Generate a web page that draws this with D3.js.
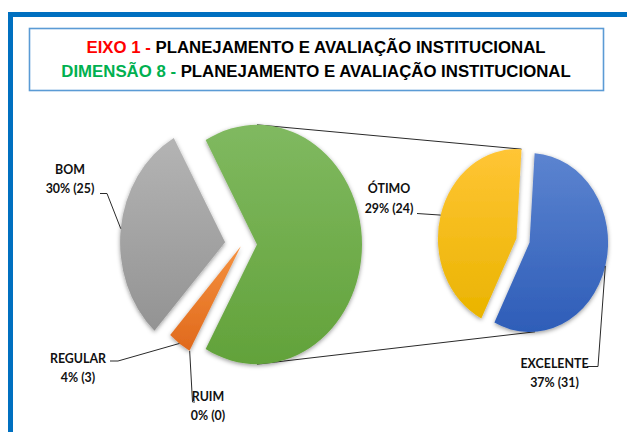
<!DOCTYPE html>
<html><head><meta charset="utf-8">
<script src="https://cdn.jsdelivr.net/npm/d3@7"></script>
<style>body{margin:0;background:#fff;}svg{display:block}</style>
</head><body><svg id="c" width="627" height="432"></svg>
<script>
// ---------- data ----------
const categories = ["RUIM", "REGULAR", "BOM", "ÓTIMO", "EXCELENTE"];
const counts = [0, 3, 25, 24, 31];
const percentLabels = ["0%", "4%", "30%", "29%", "37%"];
const mainCategories = ["RUIM", "REGULAR", "BOM"];          // shown in the main pie
const secondaryCategories = ["EXCELENTE", "ÓTIMO"];         // split out in the secondary pie
const otherName = "OUTROS";
const titleLine1 = ["EIXO 1 - ", "PLANEJAMENTO E AVALIAÇÃO INSTITUCIONAL"];
const titleLine2 = ["DIMENSÃO 8 - ", "PLANEJAMENTO E AVALIAÇÃO INSTITUCIONAL"];

// ---------- style / layout ----------
const colors = {
  RUIM: ["#f5913f", "#e0691c"], REGULAR: ["#f5913f", "#e0691c"],
  BOM: ["#b4b4b4", "#939393"], OUTROS: ["#80b960", "#62a23a"],
  "ÓTIMO": ["#ffc535", "#eab400"], EXCELENTE: ["#5c84d0", "#2e5db8"]
};
const SY = 1.14; // vertical stretch of the picture
const mainPie = {cx: 242, cy: 244.5, r: 105};
const secPie = {cx: 523, cy: 240.5, r: 78.5};
const explode = {OUTROS: 15, BOM: 17, REGULAR: 2, RUIM: 2, "ÓTIMO": 6.8, EXCELENTE: 6.8};
const secStart = 3.7 * Math.PI / 180;
const labelLayout = {
  BOM:       {x: 70,    y1: 174, y2: 193,   leader: [[100, 193.5], [107, 193.5]]},
  REGULAR:   {x: 78,    y1: 363, y2: 381.5, leader: [[110, 361], [118, 361]]},
  RUIM:      {x: 208,   y1: 401, y2: 420,   leader: [[195, 402], [192.5, 402]]},
  "ÓTIMO":   {x: 389,   y1: 193, y2: 213,   leader: [[417, 213.5]]},
  EXCELENTE: {x: 554.5, y1: 368, y2: 386.5, leader: [[587, 366.5], [598, 366.5]]}
};

const svg = d3.select("#c");
const defs = svg.append("defs");
Object.entries(colors).forEach(([k, c], i) => {
  const g = defs.append("linearGradient").attr("id", "g" + i)
    .attr("x1", 0).attr("y1", 0).attr("x2", 0).attr("y2", 1);
  g.append("stop").attr("offset", "0%").attr("stop-color", c[0]);
  g.append("stop").attr("offset", "100%").attr("stop-color", c[1]);
  colors[k].id = "g" + i;
});
const f = defs.append("filter").attr("id", "sh").attr("x", "-20%").attr("y", "-20%").attr("width", "140%").attr("height", "140%");
f.append("feDropShadow").attr("dx", 0).attr("dy", 1.5).attr("stdDeviation", 2.2)
  .attr("flood-color", "#000").attr("flood-opacity", 0.4);

// frame
svg.append("rect").attr("x", 8).attr("y", 12).attr("width", 5).attr("height", 432 - 12).attr("fill", "#0070c0");
svg.append("rect").attr("x", 8).attr("y", 12).attr("width", 627 - 8).attr("height", 5).attr("fill", "#0070c0");
// title box
svg.append("rect").attr("x", 29.5).attr("y", 28.5).attr("width", 574).attr("height", 62)
  .attr("fill", "#fff").attr("stroke", "#5b9bd5").attr("stroke-width", 1.6);
function title(parts, color, y) {
  const t = svg.append("text").attr("x", 316).attr("y", y).attr("text-anchor", "middle")
    .attr("font-family", "'Liberation Sans', Arial, sans-serif").attr("font-weight", "bold")
    .attr("font-size", 16.8);
  t.append("tspan").attr("fill", color).text(parts[0]);
  t.append("tspan").attr("fill", "#000").text(parts[1]);
}
title(titleLine1, "#ff0000", 53);
title(titleLine2, "#00b050", 77);

// ---------- data prep ----------
const byName = Object.fromEntries(categories.map((c, i) => [c, {name: c, value: counts[i], pct: percentLabels[i]}]));
const total = d3.sum(counts);
const otherValue = d3.sum(secondaryCategories, c => byName[c].value);
const mainData = [{name: otherName, value: otherValue}, ...mainCategories.map(c => byName[c])];
const otherAngle = 2 * Math.PI * otherValue / total;
const mainStart = Math.PI / 2 - otherAngle / 2;
const mainArcs = d3.pie().sort(null).value(d => d.value)
  .startAngle(mainStart).endAngle(mainStart + 2 * Math.PI)(mainData);
const secArcs = d3.pie().sort(null).value(d => d.value)
  .startAngle(secStart).endAngle(secStart + 2 * Math.PI)(secondaryCategories.map(c => byName[c]));

function vertex(p, a) {
  const m = (a.startAngle + a.endAngle) / 2, d = explode[a.data.name] || 0;
  return [p.cx + Math.sin(m) * d, p.cy - Math.cos(m) * d * SY];
}
function arcPoint(p, a, ang) {
  const v = vertex(p, a);
  return [v[0] + Math.sin(ang) * p.r, v[1] - Math.cos(ang) * p.r * SY];
}

// connector lines (behind)
const other = mainArcs[0];
const yel = secArcs.find(a => a.data.name === "ÓTIMO");
const blu = secArcs.find(a => a.data.name === "EXCELENTE");
const topA = arcPoint(mainPie, other, 0), botA = arcPoint(mainPie, other, Math.PI);
const topB = arcPoint(secPie, yel, yel.endAngle), botB = arcPoint(secPie, blu, 176 * Math.PI / 180);
svg.append("line").attr("x1", topA[0]).attr("y1", topA[1]).attr("x2", topB[0]).attr("y2", topB[1])
  .attr("stroke", "#2a2a2a").attr("stroke-width", 1);
svg.append("line").attr("x1", botA[0]).attr("y1", botA[1]).attr("x2", botB[0]).attr("y2", botB[1])
  .attr("stroke", "#2a2a2a").attr("stroke-width", 1);

function drawPie(p, arcs) {
  const arc = d3.arc().innerRadius(0).outerRadius(p.r);
  const g = svg.append("g").attr("filter", "url(#sh)");
  arcs.filter(a => a.value > 0).forEach(a => {
    const v = vertex(p, a);
    g.append("g").attr("transform", `translate(${v[0]},${v[1]}) scale(1,${SY})`)
      .append("path").attr("d", arc(a)).attr("fill", `url(#${colors[a.data.name].id})`);
  });
}
drawPie(mainPie, mainArcs);
drawPie(secPie, secArcs);

// labels
const allArcs = [...mainArcs.slice(1).map(a => [mainPie, a]), ...secArcs.map(a => [secPie, a])];
allArcs.forEach(([p, a]) => {
  const L = labelLayout[a.data.name];
  const anchor = arcPoint(p, a, (a.startAngle + a.endAngle) / 2);
  const pts = [...L.leader, anchor];
  svg.append("path").attr("d", d3.line()(pts)).attr("fill", "none")
    .attr("stroke", "#2a2a2a").attr("stroke-width", 1);
  [[a.data.name, L.y1], [`${a.data.pct} (${a.data.value})`, L.y2]].forEach(([txt, y]) => {
    svg.append("text").attr("transform", `translate(${L.x},${y}) scale(1,${SY})`)
      .attr("text-anchor", "middle").attr("font-family", "Lato, 'Open Sans', sans-serif")
      .attr("font-weight", "bold").attr("font-size", 12.4).attr("fill", "#111")
      .text(txt);
  });
});
</script></body></html>
